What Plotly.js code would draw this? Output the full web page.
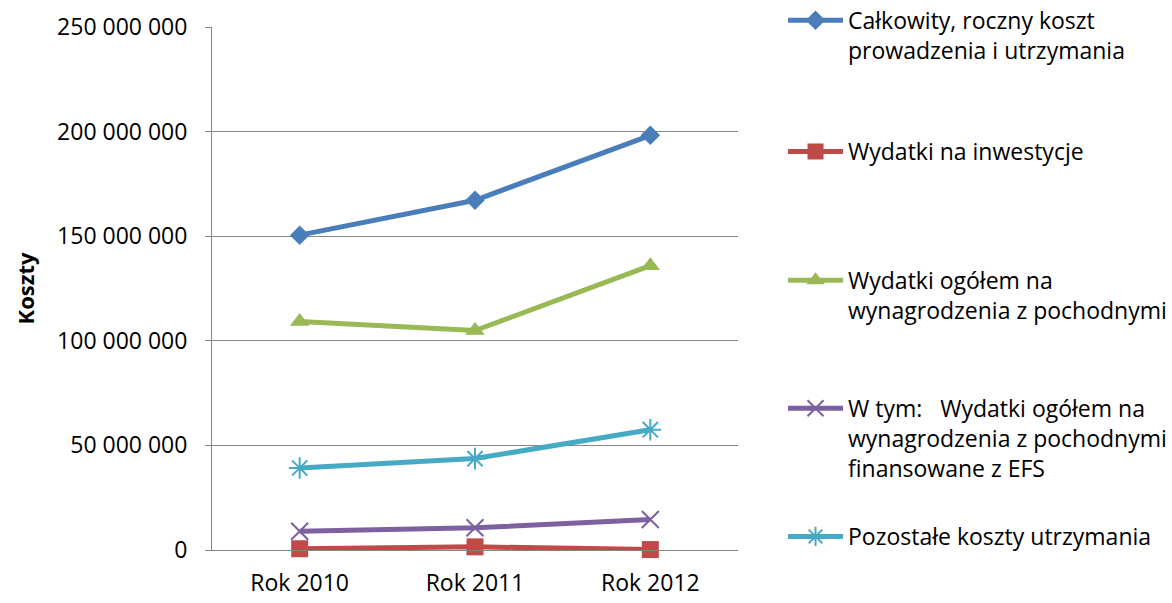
<!DOCTYPE html>
<html>
<head>
<meta charset="utf-8">
<script src="https://cdn.plot.ly/plotly-3.0.1.min.js"></script>
<style>html,body{margin:0;padding:0;background:#fff;}#chart{width:1172px;height:603px;}</style>
</head>
<body>
<div id="chart"></div>
<script>
var categories = ["Rok 2010", "Rok 2011", "Rok 2012"];
var seriesNames = [
  "Całkowity, roczny koszt<br>prowadzenia i utrzymania",
  "Wydatki na inwestycje",
  "Wydatki ogółem na<br>wynagrodzenia z pochodnymi",
  "W tym:   Wydatki ogółem na<br>wynagrodzenia z pochodnymi<br>finansowane z EFS",
  "Pozostałe koszty utrzymania"
];
var totalCost   = [150500000, 167200000, 198200000];
var investments = [600000, 1500000, 200000];
var salaries    = [109200000, 104900000, 135900000];
var salariesEFS = [9000000, 10600000, 14600000];
var otherCosts  = [39200000, 43700000, 57500000];
var yTicks = [0, 50000000, 100000000, 150000000, 200000000, 250000000];

var colors = ["#4A7EBB", "#BE4B48", "#98B954", "#7D60A0", "#46AAC5"];
var symbols = ["diamond", "square", "triangle-up", "x-thin-open", "asterisk-open"];
var sizes = [15, 17, 17, 17, 18];
var values = [totalCost, investments, salaries, salariesEFS, otherCosts];
var legendIds = ["legend", "legend2", "legend3", "legend4", "legend5"];

var traces = values.map(function (v, i) {
  return {
    type: "scatter",
    mode: "lines+markers",
    x: categories,
    y: v,
    name: seriesNames[i],
    legend: legendIds[i],
    cliponaxis: false,
    line: {color: colors[i], width: 5},
    marker: {
      symbol: symbols[i],
      size: sizes[i],
      color: colors[i],
      line: {color: colors[i], width: (i >= 3 ? 2 : 0)}
    }
  };
});

var font = "Open Sans, Noto Sans, sans-serif";
var legendY = [1.054, 0.803, 0.557, 0.312, 0.067];
var layout = {
  width: 1172, height: 603,
  margin: {l: 212, r: 434, t: 27, b: 53, autoexpand: false},
  paper_bgcolor: "#ffffff",
  plot_bgcolor: "#ffffff",
  separators: ", ",
  font: {family: font, size: 23, color: "#000000"},
  showlegend: true,
  xaxis: {
    type: "category",
    range: [-0.5, 2.5],
    showgrid: false,
    showline: true,
    linecolor: "#868686",
    linewidth: 1,
    ticks: "",
    ticklabelstandoff: 12,
    tickfont: {family: font, size: 23, color: "#000"},
    zeroline: false
  },
  yaxis: {
    range: [0, 250000000],
    tickvals: yTicks,
    tickformat: ",d",
    showgrid: true,
    gridcolor: "#868686",
    gridwidth: 1,
    showline: true,
    linecolor: "#868686",
    linewidth: 1,
    ticks: "outside",
    ticklen: 6,
    tickcolor: "#868686",
    ticklabelstandoff: 13,
    zeroline: false,
    tickfont: {family: font, size: 23, color: "#000"},
    title: {text: "Koszty", font: {family: font, size: 22, color: "#000", weight: "bold"}, standoff: 16}
  }
};
legendIds.forEach(function (id, i) {
  layout[id] = {
    x: 1.0856, xanchor: "left",
    y: legendY[i], yanchor: "top",
    valign: "top",
    bgcolor: "rgba(0,0,0,0)",
    borderwidth: 0,
    itemwidth: 55,
    font: {family: font, size: 23, color: "#000"}
  };
});

Plotly.newPlot("chart", traces, layout, {displayModeBar: false, staticPlot: true});
</script>
</body>
</html>
